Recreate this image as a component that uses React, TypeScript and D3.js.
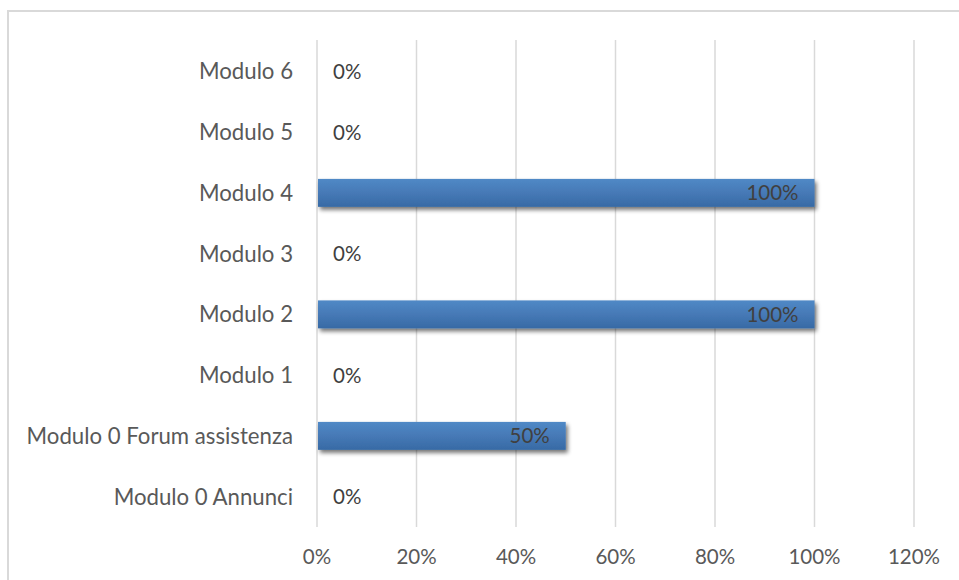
import React from "react";
import * as d3 from "d3";

const categories = [
  "Modulo 0 Annunci",
  "Modulo 0 Forum assistenza",
  "Modulo 1",
  "Modulo 2",
  "Modulo 3",
  "Modulo 4",
  "Modulo 5",
  "Modulo 6",
];
const values = [0, 0.5, 0, 1, 0, 1, 0, 0];
const ticks = [0, 0.2, 0.4, 0.6, 0.8, 1.0, 1.2];

const W = 959;
const H = 580;
const FONT = "Lato, 'Open Sans', sans-serif";
const TEXT = "#595959";

export default function App() {
  const x = d3.scaleLinear().domain([0, 1.2]).range([317, 914]);
  // top-most category drawn first
  const y = d3
    .scaleBand<string>()
    .domain([...categories].reverse())
    .range([41, 527])
    .paddingInner(0.54)
    .paddingOuter(0.27);
  const fmt = d3.format(".0%");

  return (
    <svg
      width={W}
      height={H}
      style={{ position: "absolute", left: 0, top: 0, background: "#fff" }}
    >
      <defs>
        <linearGradient id="barFill" x1="0" y1="0" x2="0" y2="1">
          <stop offset="0" stopColor="#5089c6" />
          <stop offset="0.5" stopColor="#4679b6" />
          <stop offset="1" stopColor="#376aa5" />
        </linearGradient>
        <filter id="barShadow" x="-10%" y="-50%" width="120%" height="220%">
          <feGaussianBlur in="SourceAlpha" stdDeviation="2.2" />
          <feOffset dx="2" dy="3" result="b" />
          <feComponentTransfer>
            <feFuncA type="linear" slope="0.55" />
          </feComponentTransfer>
          <feMerge>
            <feMergeNode />
            <feMergeNode in="SourceGraphic" />
          </feMerge>
        </filter>
      </defs>
      <rect x={8} y={11} width={W + 10} height={H + 10} fill="#fff" stroke="#d9d9d9" strokeWidth={2} />

      {/* vertical gridlines */}
      {ticks.map((t) => (
        <line
          key={t}
          x1={x(t)}
          x2={x(t)}
          y1={40}
          y2={527}
          stroke="#d9d9d9"
          strokeWidth={1.5}
        />
      ))}

      {/* bars */}
      {categories.map((c, i) =>
        values[i] > 0 ? (
          <rect
            key={c}
            x={x(0) + 1}
            y={y(c)!}
            width={x(values[i]) - x(0) - 1}
            height={y.bandwidth()}
            fill="url(#barFill)"
            filter="url(#barShadow)"
          />
        ) : null
      )}

      {/* value labels */}
      {categories.map((c, i) => {
        const cy = y(c)! + y.bandwidth() / 2;
        const inside = values[i] > 0;
        return (
          <text
            key={c}
            x={inside ? x(values[i]) - 16 : x(0) + 16}
            y={cy}
            dy="0.36em"
            textAnchor={inside ? "end" : "start"}
            fontFamily={FONT}
            fontSize={20.5}
            fill="#404040"
          >
            {fmt(values[i])}
          </text>
        );
      })}

      {/* category labels */}
      {categories.map((c) => (
        <text
          key={c}
          x={293}
          y={y(c)! + y.bandwidth() / 2}
          dy="0.36em"
          textAnchor="end"
          fontFamily={FONT}
          fontSize={22.2}
          fill={TEXT}
        >
          {c}
        </text>
      ))}

      {/* x tick labels */}
      {ticks.map((t) => (
        <text
          key={t}
          x={x(t)}
          y={557}
          dy="0.36em"
          textAnchor="middle"
          fontFamily={FONT}
          fontSize={20.5}
          fill={TEXT}
        >
          {fmt(t)}
        </text>
      ))}
    </svg>
  );
}
